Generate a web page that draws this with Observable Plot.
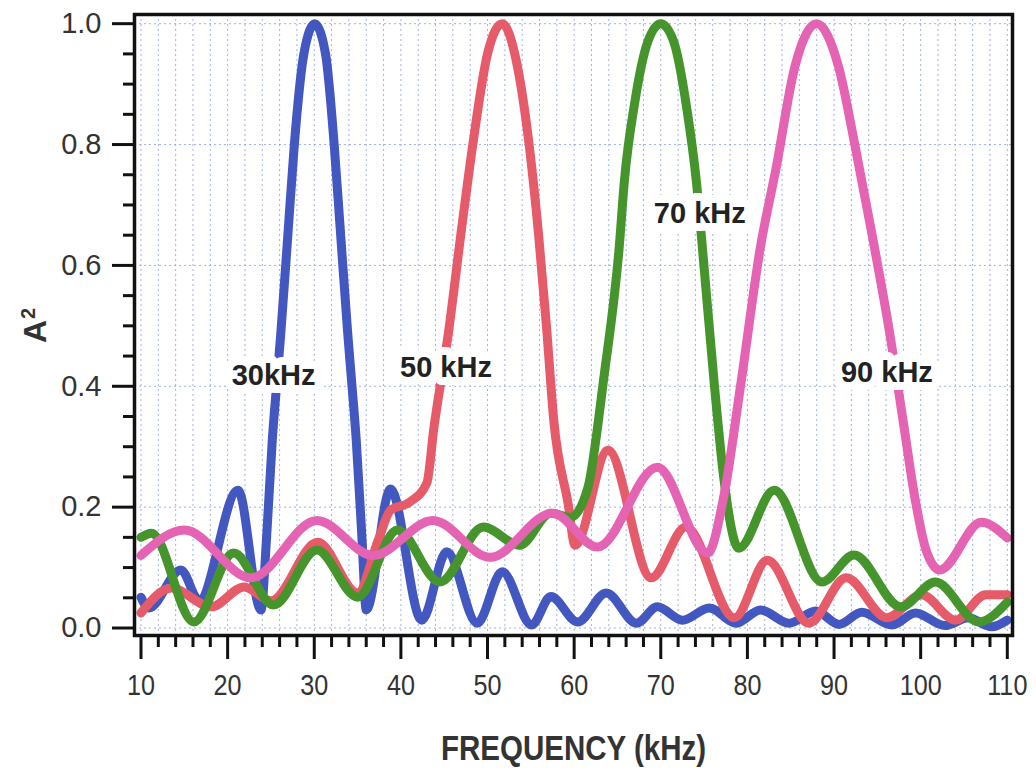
<!DOCTYPE html>
<html><head><meta charset="utf-8">
<script src="https://cdn.jsdelivr.net/npm/d3@7"></script>
<script src="https://cdn.jsdelivr.net/npm/@observablehq/plot@0.6"></script>
<style>body{margin:0;background:#fff}</style>
</head><body><div id="chart"></div>
<script>
// ---- data ----
const seriesNames = ["30 kHz", "50 kHz", "70 kHz", "90 kHz"];

const blueFreq = [10, 10.9, 14.6, 16.7, 21.2, 23.85, 24.5, 25.15, 25.7, 26.15, 27.0, 27.7, 28.8, 30.05, 31.3, 32.3, 33.0, 33.85, 34.3, 34.85, 35.5, 36.0, 38.8, 42.4, 45.3, 48.8, 51.7, 55.1, 57.3, 60.4, 63.7, 67.2, 69.6, 72.5, 75.6, 78.7, 81.5, 84.8, 87.9, 90.6, 93.2, 96.7, 99.4, 102.8, 105.5, 108.2, 110];
const blueAmp  = [0.051, 0.033, 0.096, 0.046, 0.228, 0.03, 0.15, 0.31, 0.41, 0.49, 0.66, 0.8, 0.95, 1.0, 0.95, 0.8, 0.66, 0.49, 0.41, 0.31, 0.15, 0.03, 0.23, 0.013, 0.126, 0.008, 0.093, 0.005, 0.052, 0.01, 0.058, 0.008, 0.035, 0.013, 0.033, 0.008, 0.03, 0.008, 0.028, 0.006, 0.026, 0.005, 0.025, 0.004, 0.017, 0.002, 0.013];

const redFreq = [10, 13.5, 18.1, 21.9, 25.0, 30.4, 35.0, 37.4, 38.8, 41.0, 43.0, 43.8, 45.5, 47.0, 48.3, 50.0, 51.7, 53.3, 54.8, 55.9, 56.8, 57.65, 59.3, 60.1, 63.9, 68.9, 72.9, 78.5, 82.3, 87.1, 91.4, 96.1, 100.1, 104.0, 107.5, 110];
const redAmp  = [0.025, 0.066, 0.035, 0.068, 0.045, 0.142, 0.058, 0.146, 0.195, 0.208, 0.24, 0.33, 0.49, 0.66, 0.8, 0.95, 1.0, 0.94, 0.8, 0.65, 0.5, 0.343, 0.206, 0.137, 0.294, 0.083, 0.167, 0.017, 0.112, 0.008, 0.083, 0.017, 0.055, 0.013, 0.055, 0.055];

const greenFreq = [10, 11.2, 16.1, 20.7, 25.3, 30.3, 35.0, 39.6, 44.5, 49.5, 53.7, 57.3, 59.6, 61.6, 62.8, 63.3, 65.2, 65.8, 67.0, 68.5, 70.0, 71.5, 73.0, 74.1, 74.8, 76.2, 77.3, 79.0, 83.1, 88.6, 92.3, 97.7, 101.7, 106.7, 110];
const greenAmp  = [0.15, 0.157, 0.01, 0.124, 0.038, 0.129, 0.051, 0.162, 0.076, 0.167, 0.137, 0.19, 0.183, 0.233, 0.343, 0.4, 0.63, 0.74, 0.87, 0.97, 1.0, 0.97, 0.86, 0.74, 0.63, 0.4, 0.245, 0.132, 0.228, 0.076, 0.121, 0.035, 0.076, 0.01, 0.043];

const pinkFreq = [10, 15.0, 22.7, 30.3, 36.8, 43.7, 50.3, 57.5, 62.7, 69.6, 75.4, 77.3, 79.2, 81.5, 83.3, 85.5, 88.0, 90.5, 92.4, 94.4, 96.4, 98.0, 99.4, 100.6, 102.2, 107.0, 110];
const pinkAmp  = [0.12, 0.162, 0.083, 0.178, 0.12, 0.178, 0.117, 0.19, 0.134, 0.266, 0.124, 0.22, 0.4, 0.63, 0.76, 0.93, 1.0, 0.93, 0.8, 0.65, 0.49, 0.34, 0.21, 0.13, 0.096, 0.175, 0.149];

const labelText = ["30kHz", "50 kHz", "70 kHz", "90 kHz"];
const labelFreq = [25.3, 45.2, 74.5, 96.1];
const labelAmp  = [0.418, 0.431, 0.686, 0.423];

const xMajorTicks = [10, 20, 30, 40, 50, 60, 70, 80, 90, 100, 110];
const xMinorTicks = [12, 14, 16, 18, 22, 24, 26, 28, 32, 34, 36, 38, 42, 44, 46, 48, 52, 54, 56, 58, 62, 64, 66, 68, 72, 74, 76, 78, 82, 84, 86, 88, 92, 94, 96, 98, 102, 104, 106, 108];
const xGridLines  = [10, 12, 14, 16, 18, 20, 22, 24, 26, 28, 30, 32, 34, 36, 38, 40, 42, 44, 46, 48, 50, 52, 54, 56, 58, 60, 62, 64, 66, 68, 70, 72, 74, 76, 78, 80, 82, 84, 86, 88, 90, 92, 94, 96, 98, 100, 102, 104, 106, 108, 110];
const yMajorTicks = [0.0, 0.2, 0.4, 0.6, 0.8, 1.0];
const yMinorTicks = [0.05, 0.1, 0.15, 0.25, 0.3, 0.35, 0.45, 0.5, 0.55, 0.65, 0.7, 0.75, 0.85, 0.9, 0.95];

const xTitle = "FREQUENCY (kHz)";
const yTitleMain = "A";
const yTitleSup = "2";

// ---- build table ----
const freqs = [blueFreq, redFreq, greenFreq, pinkFreq];
const amps = [blueAmp, redAmp, greenAmp, pinkAmp];
const rows = seriesNames.flatMap((name, k) => freqs[k].map((f, i) => ({series: name, f, a: amps[k][i]})));
const labels = labelText.map((t, i) => ({t, f: labelFreq[i], a: labelAmp[i]}));

const colors = ["#4257bf", "#e65b69", "#45952c", "#e463b3"];
const sans = "'Liberation Sans', Arial, Helvetica, sans-serif";

const chart = Plot.plot({
  width: 1036,
  height: 774,
  marginTop: 14,
  marginBottom: 139,
  marginLeft: 134,
  marginRight: 24,
  style: {background: "#fff", fontFamily: sans},
  x: {domain: [9.25, 110.6]},
  y: {domain: [-0.0124, 1.0152]},
  color: {domain: seriesNames, range: colors},
  marks: [
    Plot.gridX(xGridLines, {stroke: "#8fa6dc", strokeOpacity: 0.85, strokeDasharray: "2,3", strokeWidth: 1}),
    Plot.gridY(yMajorTicks, {stroke: "#8fa6dc", strokeOpacity: 0.85, strokeDasharray: "2,3", strokeWidth: 1}),
    Plot.line(rows, {x: "f", y: "a", z: "series", stroke: "series", strokeWidth: 9, curve: "monotone-x", strokeLinecap: "round", strokeLinejoin: "round"}),
    Plot.text(labels, {x: "f", y: "a", text: "t", fill: "#222", stroke: "white", strokeWidth: 16, strokeLinejoin: "round", fontSize: 29, fontWeight: "bold", fontFamily: sans}),
    Plot.frame({stroke: "#111", strokeWidth: 3.5}),
    Plot.axisX(xMajorTicks, {tickSize: 24, tickPadding: 14, strokeWidth: 3, stroke: "#111", fill: "#333", fontSize: 30, fontFamily: sans, tickFormat: d => String(d), label: null}),
    Plot.axisX(xMinorTicks, {tickSize: 12, strokeWidth: 3, stroke: "#111", text: null, label: null}),
    Plot.axisY(yMajorTicks, {tickSize: 22, tickPadding: 11, strokeWidth: 3, stroke: "#111", fill: "#333", fontSize: 29, fontFamily: sans, tickFormat: d3.format(".1f"), label: null}),
    Plot.axisY(yMinorTicks, {tickSize: 11, strokeWidth: 3, stroke: "#111", text: null, label: null}),
    Plot.text([xTitle], {frameAnchor: "bottom", dy: 113, text: d => d, fontSize: 36, fontWeight: "bold", fontFamily: sans, fill: "#333", lineAnchor: "middle"}),
    Plot.text([yTitleMain], {frameAnchor: "left", dx: -99, dy: 18, rotate: -90, text: d => d, fontSize: 32, fontWeight: "bold", fontFamily: sans, fill: "#333"}),
    Plot.text([yTitleSup], {frameAnchor: "left", dx: -106, dy: -6, rotate: -90, text: d => d, fontSize: 20, fontWeight: "bold", fontFamily: sans, fill: "#333"})
  ]
});
document.getElementById("chart").appendChild(chart);

// condensed look for the x tick labels and the x title (horizontal squeeze about each anchor)
const xLabelStrings = xMajorTicks.map(String);
chart.querySelectorAll("text").forEach(node => {
  const s = node.textContent;
  let factor = null;
  if (s === xTitle) factor = 0.82;
  else if (xLabelStrings.includes(s)) factor = 0.84;
  if (factor == null) return;
  const xAttr = node.getAttribute("x");
  if (xAttr != null && xAttr !== "") node.setAttribute("x", (+xAttr / factor).toFixed(2));
  const t = node.getAttribute("transform") || "";
  node.setAttribute("transform", (t + ` scale(${factor},1)`).trim());
});
</script>
</body></html>
